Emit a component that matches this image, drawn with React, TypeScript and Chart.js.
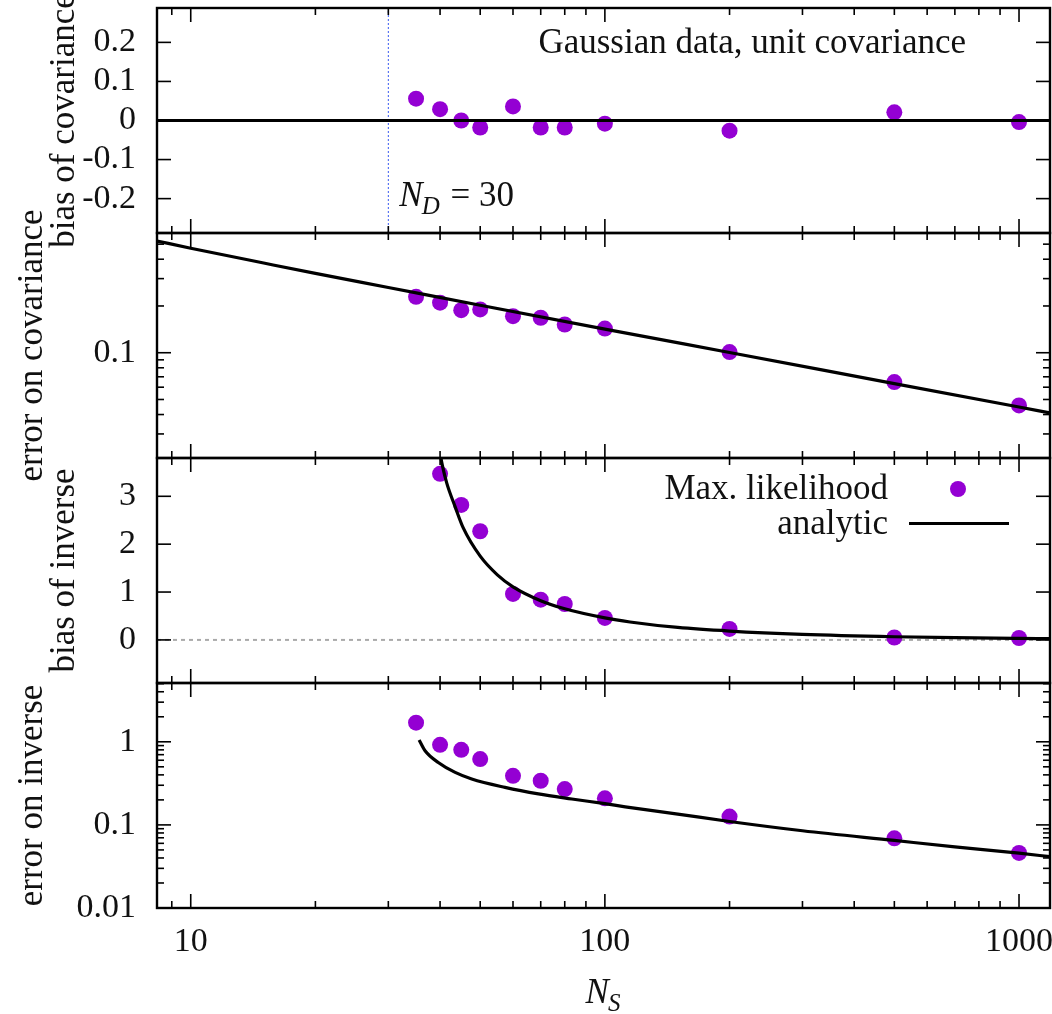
import React, { useEffect, useRef } from 'react';
import { Chart, registerables } from 'chart.js';

Chart.register(...registerables);

// ---------- data ----------
const X_MIN = 8.29;
const X_MAX = 1188;
const N_D = 30;

const sampleSizes = [35, 40, 45, 50, 60, 70, 80, 100, 200, 500, 1000];
const biasCovariance = [0.056, 0.029, 0.0, -0.018, 0.036, -0.018, -0.018, -0.008, -0.026, 0.021, -0.004];
const errorCovariance = [0.229, 0.21, 0.188, 0.19, 0.172, 0.168, 0.152, 0.143, 0.101, 0.0647, 0.0458];
const biasInverse = [null, 3.47, 2.82, 2.27, 0.96, 0.84, 0.75, 0.46, 0.23, 0.05, 0.04];
const errorInverse = [1.7, 0.92, 0.8, 0.62, 0.39, 0.34, 0.27, 0.209, 0.126, 0.069, 0.046];

const biasCovLineN = [X_MIN, X_MAX];
const biasCovLine = [0, 0];

const errCovCurveN = [8.29, 10, 15, 20, 30, 50, 100, 200, 500, 1000, 1188];
const errCovCurve = [0.524, 0.471, 0.378, 0.324, 0.263, 0.202, 0.142, 0.1003, 0.0633, 0.0447, 0.041];

const biasInvCurveN = [40, 40.5, 41.5, 43.5, 45.5, 50, 55, 60, 70, 80, 100, 115, 150, 200, 300, 500, 700, 1000, 1188];
const biasInvCurve = [3.9, 3.65, 3.28, 2.78, 2.34, 1.75, 1.36, 1.11, 0.82, 0.65, 0.46, 0.375, 0.26, 0.185, 0.116, 0.066, 0.046, 0.032, 0.027];

const errInvCurveN = [35.6, 36.8, 39.6, 43.5, 47.7, 57.4, 69.1, 83.2, 100, 112, 150, 200, 300, 500, 700, 1000, 1188];
const errInvCurve = [1.05, 0.78, 0.564, 0.428, 0.357, 0.283, 0.236, 0.205, 0.18, 0.165, 0.135, 0.11, 0.085, 0.065, 0.0545, 0.0457, 0.0415];

// ---------- axes / ticks ----------
const Y_A_MIN = -0.288, Y_A_MAX = 0.288;
const Y_B_MIN = 0.021, Y_B_MAX = 0.59;
const Y_C_MIN = -0.9, Y_C_MAX = 3.8;
const Y_D_MIN = 0.01, Y_D_MAX = 5.1;

const X_MAJOR_TICKS = [10, 100, 1000];
const X_TICK_LABELS = ['10', '100', '1000'];
const X_MINOR_TICKS = [9, 20, 30, 40, 50, 60, 70, 80, 90, 200, 300, 400, 500, 600, 700, 800, 900];

const YA_TICKS = [-0.2, -0.1, 0, 0.1, 0.2];
const YA_LABELS = ['-0.2', '-0.1', '0', '0.1', '0.2'];
const YB_TICKS = [0.1];
const YB_LABELS = ['0.1'];
const YB_MINOR = [0.03, 0.04, 0.05, 0.06, 0.07, 0.08, 0.09, 0.2, 0.3, 0.4, 0.5];
const YC_TICKS = [0, 1, 2, 3];
const YC_LABELS = ['0', '1', '2', '3'];
const YD_TICKS = [0.01, 0.1, 1];
const YD_LABELS = ['0.01', '0.1', '1'];
const YD_MINOR = [0.02, 0.03, 0.04, 0.05, 0.06, 0.07, 0.08, 0.09, 0.2, 0.3, 0.4, 0.5, 0.6, 0.7, 0.8, 0.9, 2, 3, 4, 5];

const PANEL_TITLES = ['bias of covariance', 'error on covariance', 'bias of inverse', 'error on inverse'];
const SERIES_LABELS = ['Max. likelihood', 'analytic'];
const NOTE_TEXT = 'Gaussian data, unit covariance';

// ---------- style ----------
const FONT = "'Liberation Serif', 'Times New Roman', serif";
const FS = 35;
const TICK_FS = 34;
const PURPLE = '#9400d3';

const pts = (xs: number[], ys: (number | null)[]) =>
  xs.map((x, i) => ({ x, y: ys[i] })).filter((p) => p.y !== null) as { x: number; y: number }[];

const PANELS = [
  { id: 'yA', ticks: YA_TICKS, minor: [] as number[], title: PANEL_TITLES[0], titleX: 74 },
  { id: 'yB', ticks: YB_TICKS, minor: YB_MINOR, title: PANEL_TITLES[1], titleX: 42 },
  { id: 'yC', ticks: YC_TICKS, minor: [] as number[], title: PANEL_TITLES[2], titleX: 74 },
  { id: 'yD', ticks: YD_TICKS, minor: YD_MINOR, title: PANEL_TITLES[3], titleX: 42 },
];

function yScale(type: string, min: number, max: number, ticks: number[], labels: string[]) {
  return {
    type,
    min,
    max,
    position: 'left',
    stack: 'panels',
    stackWeight: 1,
    offset: false,
    grid: { display: false, drawTicks: false },
    border: { display: false },
    ticks: {
      font: { family: FONT, size: TICK_FS },
      color: '#111',
      padding: 21,
      autoSkip: false,
      callback: (v: number) => {
        const i = ticks.findIndex((t) => Math.abs(t - v) < 1e-9);
        return i >= 0 ? labels[i] : '';
      },
    },
    afterBuildTicks: (s: any) => {
      s.ticks = ticks.map((v) => ({ value: v }));
    },
    afterFit: (s: any) => {
      s.width = 157;
      s.paddingTop = 0;
      s.paddingBottom = 0;
      s.paddingLeft = 0;
      s.paddingRight = 0;
    },
  };
}

function drawSubText(ctx: CanvasRenderingContext2D, x: number, y: number, main: string, sub: string, rest: string, align: 'left' | 'center') {
  ctx.font = `italic ${FS}px ${FONT}`;
  const w1 = ctx.measureText(main).width;
  ctx.font = `italic 25px ${FONT}`;
  const w2 = ctx.measureText(sub).width;
  ctx.font = `${FS}px ${FONT}`;
  const w3 = rest ? ctx.measureText(rest).width : 0;
  const sx = align === 'center' ? x - (w1 + w2 + w3) / 2 : x;
  ctx.textAlign = 'left';
  ctx.textBaseline = 'alphabetic';
  ctx.font = `italic ${FS}px ${FONT}`;
  ctx.fillText(main, sx, y);
  ctx.font = `italic 25px ${FONT}`;
  ctx.fillText(sub, sx + w1 - 1, y + 8);
  if (rest) {
    ctx.font = `${FS}px ${FONT}`;
    ctx.fillText(rest, sx + w1 + w2 + 1, y);
  }
}

const framePlugin = {
  id: 'gnuplotFrame',
  afterDatasetsDraw(chart: any) {
    const ctx: CanvasRenderingContext2D = chart.ctx;
    const { left, right } = chart.chartArea;
    const xs = chart.scales.x;
    const seg = (x1: number, y1: number, x2: number, y2: number) => {
      ctx.beginPath();
      ctx.moveTo(x1, y1);
      ctx.lineTo(x2, y2);
      ctx.stroke();
    };
    ctx.save();
    ctx.strokeStyle = '#000';
    ctx.fillStyle = '#111';
    for (const p of PANELS) {
      const ys = chart.scales[p.id];
      const top = ys.top;
      const bottom = ys.bottom;
      ctx.lineWidth = 1.6;
      for (const v of X_MAJOR_TICKS) {
        const px = xs.getPixelForValue(v);
        seg(px, bottom, px, bottom - 14);
        seg(px, top, px, top + 14);
      }
      for (const v of X_MINOR_TICKS) {
        const px = xs.getPixelForValue(v);
        seg(px, bottom, px, bottom - 7);
        seg(px, top, px, top + 7);
      }
      for (const v of p.ticks) {
        const py = ys.getPixelForValue(v);
        seg(left, py, left + 14, py);
        seg(right, py, right - 14, py);
      }
      for (const v of p.minor) {
        const py = ys.getPixelForValue(v);
        seg(left, py, left + 7, py);
        seg(right, py, right - 7, py);
      }
      ctx.lineWidth = 2.4;
      ctx.strokeRect(left, top, right - left, bottom - top);

      // rotated panel title
      ctx.save();
      ctx.translate(p.titleX, (top + bottom) / 2);
      ctx.rotate(-Math.PI / 2);
      ctx.font = `${FS}px ${FONT}`;
      ctx.textAlign = 'center';
      ctx.textBaseline = 'alphabetic';
      ctx.fillText(p.title, 0, 0);
      ctx.restore();
    }

    const yA = chart.scales.yA;
    const yC = chart.scales.yC;

    // note in top panel
    ctx.font = `${FS}px ${FONT}`;
    ctx.textAlign = 'right';
    ctx.textBaseline = 'alphabetic';
    ctx.fillText(NOTE_TEXT, right - 84, yA.top + 45);

    // N_D = 30 label
    drawSubText(ctx, xs.getPixelForValue(N_D) + 11, yA.bottom - 27, 'N', 'D', ' = ' + N_D, 'left');

    // legend in third panel
    ctx.font = `${FS}px ${FONT}`;
    ctx.textAlign = 'right';
    ctx.fillText(SERIES_LABELS[0], right - 162, yC.top + 41);
    ctx.fillText(SERIES_LABELS[1], right - 162, yC.top + 76);
    ctx.fillStyle = PURPLE;
    ctx.beginPath();
    ctx.arc(right - 92, yC.top + 31, 8, 0, Math.PI * 2);
    ctx.fill();
    ctx.strokeStyle = '#000';
    ctx.lineWidth = 3.2;
    seg(right - 141, yC.top + 65.5, right - 41, yC.top + 65.5);

    // x axis title N_S
    ctx.fillStyle = '#111';
    drawSubText(ctx, (left + right) / 2, chart.chartArea.bottom + 95, 'N', 'S', '', 'center');
    ctx.restore();
  },
};

export default function App() {
  const canvasRef = useRef<HTMLCanvasElement | null>(null);

  useEffect(() => {
    if (!canvasRef.current) return;
    const dots = (data: any[], yAxisID: string) => ({
      data,
      yAxisID,
      showLine: false,
      pointRadius: 8,
      pointHoverRadius: 8,
      pointBorderWidth: 0,
      pointBackgroundColor: PURPLE,
      pointBorderColor: PURPLE,
      borderColor: PURPLE,
    });
    const curve = (data: any[], yAxisID: string, extra: any = {}) => ({
      data,
      yAxisID,
      showLine: true,
      pointRadius: 0,
      pointHoverRadius: 0,
      borderColor: '#000',
      borderWidth: 3.2,
      cubicInterpolationMode: 'monotone',
      fill: false,
      ...extra,
    });

    const chart = new Chart(canvasRef.current, {
      type: 'line',
      data: {
        datasets: [
          curve(pts(biasCovLineN, biasCovLine), 'yA', { borderWidth: 3, cubicInterpolationMode: 'default' }),
          curve(pts(errCovCurveN, errCovCurve), 'yB'),
          curve(pts(biasInvCurveN, biasInvCurve), 'yC'),
          curve(pts(errInvCurveN, errInvCurve), 'yD'),
          dots(pts(sampleSizes, biasCovariance), 'yA'),
          dots(pts(sampleSizes, errorCovariance), 'yB'),
          dots(pts(sampleSizes, biasInverse), 'yC'),
          dots(pts(sampleSizes, errorInverse), 'yD'),
          curve(pts([X_MIN, X_MAX], [0, 0]), 'yC', {
            borderColor: '#aaaaaa',
            borderWidth: 2,
            borderDash: [4, 4],
            cubicInterpolationMode: 'default',
          }),
          curve(pts([N_D, N_D], [Y_A_MIN, Y_A_MAX]), 'yA', {
            borderColor: '#3a5bf0',
            borderWidth: 1,
            borderDash: [2, 2],
            cubicInterpolationMode: 'default',
          }),
        ],
      },
      options: {
        animation: false,
        responsive: false,
        maintainAspectRatio: false,
        events: [],
        layout: { autoPadding: false, padding: { top: 8, left: 0, right: 2, bottom: 0 } },
        plugins: { legend: { display: false }, tooltip: { enabled: false } },
        scales: {
          x: {
            type: 'logarithmic',
            min: X_MIN,
            max: X_MAX,
            position: 'bottom',
            grid: { display: false, drawTicks: false },
            border: { display: false },
            ticks: {
              font: { family: FONT, size: TICK_FS },
              color: '#111',
              padding: 14,
              maxRotation: 0,
              minRotation: 0,
              autoSkip: false,
              callback: (v: number) => {
                const i = X_MAJOR_TICKS.indexOf(v);
                return i >= 0 ? X_TICK_LABELS[i] : '';
              },
            },
            afterBuildTicks: (s: any) => {
              s.ticks = X_MAJOR_TICKS.map((v) => ({ value: v }));
            },
            afterFit: (s: any) => {
              s.height = 106;
              s.paddingLeft = 0;
              s.paddingRight = 0;
              s.paddingTop = 0;
              s.paddingBottom = 0;
            },
          },
          yD: yScale('logarithmic', Y_D_MIN, Y_D_MAX, YD_TICKS, YD_LABELS),
          yC: yScale('linear', Y_C_MIN, Y_C_MAX, YC_TICKS, YC_LABELS),
          yB: yScale('logarithmic', Y_B_MIN, Y_B_MAX, YB_TICKS, YB_LABELS),
          yA: yScale('linear', Y_A_MIN, Y_A_MAX, YA_TICKS, YA_LABELS),
        } as any,
      },
      plugins: [framePlugin],
    } as any);
    return () => chart.destroy();
  }, []);

  return (
    <div style={{ position: 'fixed', left: 0, top: 0, width: 1052, height: 1014, background: '#fff' }}>
      <canvas ref={canvasRef} width={1052} height={1014} style={{ width: 1052, height: 1014, display: 'block' }} />
    </div>
  );
}
